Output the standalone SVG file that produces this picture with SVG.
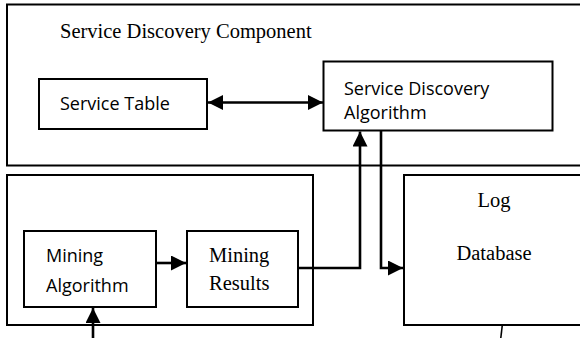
<svg xmlns="http://www.w3.org/2000/svg" width="580" height="338" viewBox="0 0 580 338">
<style>
.box{fill:#fff;stroke:#000;stroke-width:2}
.serif{font-family:"Liberation Serif","Times New Roman",serif;font-size:20.5px;fill:#000}
.sans{font-family:"Open Sans","Liberation Sans",sans-serif;font-size:18px;fill:#000}
.conn{fill:none;stroke:#000;stroke-width:2.6}
</style>
<defs>
<marker id="ah" viewBox="0 0 15 15" refX="15" refY="7.5" markerWidth="15" markerHeight="15" markerUnits="userSpaceOnUse" orient="auto-start-reverse">
<path d="M0,0 L15,7.5 L0,15 z" fill="#000"/>
</marker>
</defs>
<rect width="580" height="338" fill="#fff"/>
<g id="service-discovery-component">
<rect class="box" x="7" y="4.5" width="600" height="161"/>
<text class="serif" x="60" y="38">Service Discovery Component</text>
</g>
<g id="service-table">
<rect class="box" x="39" y="79" width="168" height="50"/>
<text class="sans" x="60" y="110">Service Table</text>
</g>
<g id="service-discovery-algorithm">
<rect class="box" x="323.5" y="61.5" width="229" height="69"/>
<text class="sans" x="344" y="95">Service Discovery</text>
<text class="sans" x="344" y="119">Algorithm</text>
</g>
<g id="mining-component">
<rect class="box" x="7" y="175" width="306" height="150"/>
</g>
<g id="mining-algorithm">
<rect class="box" x="24" y="231" width="132" height="76"/>
<text class="sans" x="46" y="262">Mining</text>
<text class="sans" x="46" y="292">Algorithm</text>
</g>
<g id="mining-results">
<rect class="box" x="187" y="231" width="111" height="76"/>
<text class="serif" x="209" y="262">Mining</text>
<text class="serif" x="209" y="290">Results</text>
</g>
<g id="log-database">
<rect class="box" x="404" y="175" width="200" height="150"/>
<text class="serif" x="494" y="207" text-anchor="middle">Log</text>
<text class="serif" x="494" y="260" text-anchor="middle">Database</text>
</g>
<g id="connectors">
<path class="conn" d="M208,102.5 H323" marker-start="url(#ah)" marker-end="url(#ah)"/>
<path class="conn" d="M298,268 H360 V131.5" marker-end="url(#ah)"/>
<path class="conn" d="M381,131 V268 H403" marker-end="url(#ah)"/>
<path class="conn" d="M156,263 H186" marker-end="url(#ah)"/>
<path class="conn" d="M93,338 V308" marker-end="url(#ah)"/>
<path class="conn" d="M502.3,325 L500.8,338" style="stroke-width:1.6"/>
</g>
</svg>
